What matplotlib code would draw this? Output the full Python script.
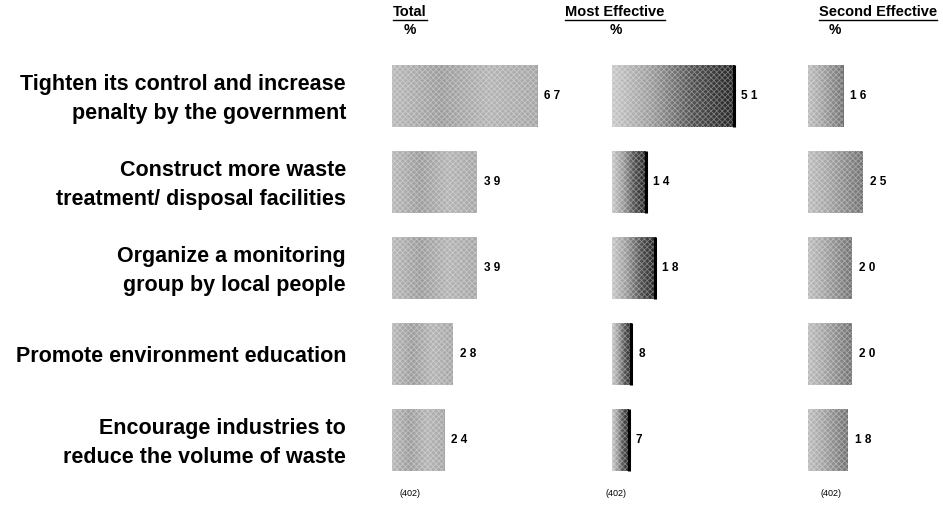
import numpy as np
import matplotlib
matplotlib.use("Agg")
import matplotlib.pyplot as plt
from matplotlib.colors import LinearSegmentedColormap

plt.rcParams['font.family'] = ['Liberation Sans', 'DejaVu Sans']
plt.rcParams['hatch.linewidth'] = 0.6

categories = [
    "Tighten its control and increase\npenalty by the government",
    "Construct more waste\ntreatment/ disposal facilities",
    "Organize a monitoring\ngroup by local people",
    "Promote environment education",
    "Encourage industries to\nreduce the volume of waste",
]
panel_titles = ["Total", "Most Effective", "Second Effective"]
total = [67, 39, 39, 28, 24]
most_effective = [51, 14, 18, 8, 7]
second_effective = [16, 25, 20, 20, 18]
base_label = "(402)"

W, H, DPI = 943, 505, 100
fig = plt.figure(figsize=(W / DPI, H / DPI), dpi=DPI)
fig.patch.set_facecolor("white")

ROW0, ROW_STEP = 96, 86
n = len(categories)
top_px = ROW0 - ROW_STEP / 2
bot_px = ROW0 + ROW_STEP * (n - 0.5)

# left edge px, px per percent, data, gradient colours, dark right edge,
# title centre, "%" centre, base centre
panels = [
    (392, 2.17, total, ["#b8b8b8", "#9c9c9c", "#b4b4b4", "#a6a6a6"], False, 410, 410, 410),
    (612, 2.40, most_effective, ["#c8c8c8", "#9a9a9a", "#505050", "#262626"], True, 615, 616, 616),
    (808, 2.20, second_effective, ["#bdbdbd", "#a8a8a8", "#8c8c8c", "#727272"], False, 878, 835, 831),
]


def add_axes_px(left, width):
    return fig.add_axes([left / W, 1 - bot_px / H, width / W, (bot_px - top_px) / H])


bar_h = 0.72
title_texts = []
for (left, ppu, vals, cols, edge_dark, tx, px, bx), title in zip(panels, panel_titles):
    width_px = 200 if left + 200 < W else W - left
    ax = add_axes_px(left, width_px)
    ax.set_xlim(0, width_px / ppu)
    ax.set_ylim(n - 0.5, -0.5)
    ax.axis("off")
    cmap = LinearSegmentedColormap.from_list("g", cols)
    grad = np.linspace(0, 1, 256).reshape(1, -1)
    bars = ax.barh(range(n), vals, height=bar_h, color="none", edgecolor="none")
    for i, (b, v) in enumerate(zip(bars, vals)):
        im = ax.imshow(grad, cmap=cmap, aspect="auto",
                       extent=(0, v, i + bar_h / 2, i - bar_h / 2),
                       interpolation="bilinear", zorder=1)
        im.set_clip_path(b)
        # fine screen texture over the shaded fill
        ax.barh(i, v, height=bar_h, color="none", edgecolor=(1, 1, 1, 0.35),
                hatch="xxxxxx", lw=0, zorder=2)
        if edge_dark:
            ax.plot([v, v], [i - bar_h / 2, i + bar_h / 2], color="black",
                    lw=2.2, solid_capstyle="butt", zorder=3)
        ax.text(v + 7 / ppu, i, " ".join(str(v)), ha="left", va="center",
                fontsize=8.5, fontweight="bold", color="black")
    title_texts.append(fig.text(tx / W, 1 - 12 / H, title, ha="center", va="center",
                                fontsize=10.5, fontweight="bold"))
    fig.text(px / W, 1 - 30 / H, "%", ha="center", va="center",
             fontsize=10, fontweight="bold")
    fig.text(bx / W, 1 - 493 / H, base_label, ha="center", va="center",
             fontsize=6.5)

# underline the panel titles
fig.canvas.draw()
r = fig.canvas.get_renderer()
for t in title_texts:
    bb = t.get_window_extent(r)
    y = bb.y0 - 0.5
    fig.add_artist(plt.Line2D([bb.x0 / W, bb.x1 / W], [y / H, y / H],
                              color="black", lw=1.0, transform=fig.transFigure))

for i, c in enumerate(categories):
    fig.text(346 / W, 1 - (ROW0 + 3 + ROW_STEP * i) / H, c, ha="right", va="center",
             fontsize=15.5, fontweight="bold", linespacing=1.5)

fig.savefig("out.png", dpi=DPI, facecolor="white")
